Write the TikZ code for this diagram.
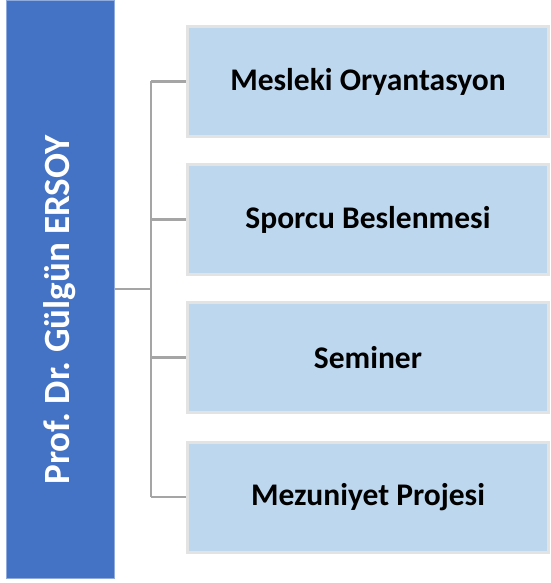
\documentclass[tikz,border=0pt]{standalone}
\usepackage{fontspec}
\setmainfont{Carlito}
\frenchspacing
\definecolor{barblue}{HTML}{4472C4}
\definecolor{barline}{HTML}{8FAADC}
\definecolor{boxfill}{HTML}{BDD7EE}
\definecolor{boxline}{HTML}{E3E3E3}
\definecolor{conn}{HTML}{A5A5A5}
\tikzset{
  itembox/.style={draw=boxline, line width=3pt, fill=boxfill, minimum width=361pt, minimum height=110pt, inner sep=0pt, font=\bfseries\fontsize{31.5}{36}\selectfont, text=black},
  connline/.style={draw=conn, line width=2.5pt}
}
\begin{document}
\begin{tikzpicture}[x=1pt,y=-1pt]
\useasboundingbox (0,0) rectangle (550,583);
\fill[white] (0,0) rectangle (550,583);
\node[draw=barline, line width=0.8pt, fill=barblue, minimum width=108pt, minimum height=578pt, inner sep=0pt, anchor=north west] (bar) at (6,0) {};
\node[rotate=90, text=white, font=\bfseries\fontsize{37}{42}\selectfont] (name) at (60,310) {Prof. Dr. Gülgün ERSOY};
\node[itembox] (b1) at (368,81.5) {Mesleki Oryantasyon};
\node[itembox] (b2) at (368,219.5) {Sporcu Beslenmesi};
\node[itembox] (b3) at (368,357.5) {Seminer};
\node[itembox] (b4) at (368,497) {Mezuniyet Projesi};
\coordinate (hub) at (151,289);
\draw[connline] (bar.east |- hub) -- (hub);
\draw[connline] (hub |- b1.west) -- (hub |- b4.west);
\foreach \b in {b1,b2,b3,b4}{
  \draw[connline] (hub |- \b.west) -- (\b.west);
}
\end{tikzpicture}
\end{document}
